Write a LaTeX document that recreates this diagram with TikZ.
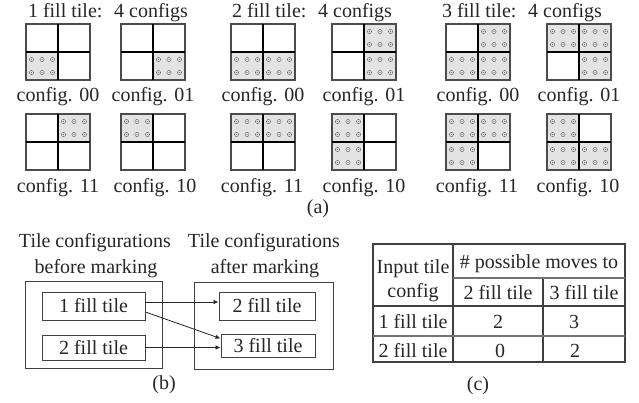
\documentclass[tikz,border=0pt]{standalone}
\usepackage{fontspec}
\setmainfont{Liberation Serif}
\usetikzlibrary{arrows.meta}
\tikzset{
  lbl/.style={font=\fontsize{20}{22}\selectfont, text=black!85, inner sep=0pt, anchor=base},
  qfill/.style={fill=gray!22},
  qdot/.style={draw=black!55, line width=0.5pt},
  qdotc/.style={fill=black!55},
  tileouter/.style={draw=black!70, line width=1.1pt},
  tilediv/.style={draw=black, line width=1.6pt},
  boxline/.style={draw=black!75, line width=0.9pt},
  inbox/.style={draw=black!75, line width=0.9pt, font=\fontsize{20}{22}\selectfont, text=black!85, inner sep=0pt, minimum height=#1},
  arr/.style={draw=black!85, line width=0.8pt, -{Latex[length=5pt,width=4.5pt]}},
  tabline/.style={draw=black!75, line width=1.1pt},
}
% one filled quadrant: #1 = x, #2 = y of its top-left corner
\newcommand\quadfill[2]{%
  \fill[qfill] (#1,#2) rectangle ++(32,28);
  \foreach \ddx in {5.5,16,26.5} {
    \foreach \ddy in {7.5,20.5} {
      \draw[qdot] (#1+\ddx,#2+\ddy) circle[radius=2.1];
      \fill[qdotc] (#1+\ddx,#2+\ddy) circle[radius=0.7];
    }
  }
}
% tile frame: #1 = x, #2 = y of top-left corner
\newcommand\tileframe[2]{%
  \draw[tileouter] (#1,#2) rectangle ++(64,56);
  \draw[tilediv] (#1+32,#2) -- ++(0,56) (#1,#2+28) -- ++(64,0);
}
\begin{document}
\begin{tikzpicture}[x=1pt,y=-1pt]
\useasboundingbox[fill=white] (0,0) rectangle (639,402);
% ---------- (a) ----------
\node[lbl] (t1) at (108,17) {1 fill tile:~ 4 configs};
\node[lbl] (t2) at (312,17) {2 fill tile:~ 4 configs};
\node[lbl] (t3) at (522,17) {3 fill tile:~ 4 configs};
% 1 fill tile
\quadfill{26}{52}\tileframe{26}{24}
\quadfill{153}{52}\tileframe{121}{24}
\quadfill{58}{114}\tileframe{26}{114}
\quadfill{121}{114}\tileframe{121}{114}
% 2 fill tile
\quadfill{231}{52}\quadfill{263}{52}\tileframe{231}{24}
\quadfill{364}{24}\quadfill{364}{52}\tileframe{332}{24}
\quadfill{231}{114}\quadfill{263}{114}\tileframe{231}{114}
\quadfill{332}{114}\quadfill{332}{142}\tileframe{332}{114}
% 3 fill tile
\quadfill{478}{24}\quadfill{446}{52}\quadfill{478}{52}\tileframe{446}{24}
\quadfill{547}{24}\quadfill{579}{24}\quadfill{579}{52}\tileframe{547}{24}
\quadfill{446}{114}\quadfill{478}{114}\quadfill{446}{142}\tileframe{446}{114}
\quadfill{547}{114}\quadfill{547}{142}\quadfill{579}{142}\tileframe{547}{114}
% labels
\node[lbl] (l1) at (58,101) {config. 00};
\node[lbl] (l2) at (153,101) {config. 01};
\node[lbl] (l3) at (263,101) {config. 00};
\node[lbl] (l4) at (364,101) {config. 01};
\node[lbl] (l5) at (478,101) {config. 00};
\node[lbl] (l6) at (579,101) {config. 01};
\node[lbl] (l7) at (58,192) {config. 11};
\node[lbl] (l8) at (155,192) {config. 10};
\node[lbl] (l9) at (262,192) {config. 11};
\node[lbl] (l10) at (364,192) {config. 10};
\node[lbl] (l11) at (477,192) {config. 11};
\node[lbl] (l12) at (578,192) {config. 10};
\node[lbl] (capa) at (318,213) {(a)};
% ---------- (b) ----------
\node[lbl] (hb1) at (95,247) {Tile configurations};
\node[lbl] (hb2) at (96,273) {before marking};
\node[lbl] (ha1) at (264,247) {Tile configurations};
\node[lbl] (ha2) at (265,273) {after marking};
\draw[boxline] (25,281) rectangle (162,368);
\draw[boxline] (194,282) rectangle (333,369);
\node[inbox=28pt, minimum width=103pt] (b1) at (93.5,306) {1 fill tile};
\node[inbox=25pt, minimum width=103pt] (b2) at (93.5,347.5) {2 fill tile};
\node[inbox=28pt, minimum width=96pt] (a2) at (267,306) {2 fill tile};
\node[inbox=23pt, minimum width=94pt] (a3) at (268,345.5) {3 fill tile};
\draw[arr] ([yshift=4pt]b1.east) -- ([yshift=4pt]a2.west);
\draw[arr] ([yshift=-6pt]b1.east) -- ([yshift=7pt]a3.west);
\draw[arr] (b2.east) -- (a3.west |- b2.east);
\node[lbl] (capb) at (164,389) {(b)};
% ---------- (c) ----------
\draw[tabline] (373,244) rectangle (625,362);
\draw[tabline] (453,244) -- (453,362);
\draw[tabline] (543,278) -- (543,362);
\draw[tabline, draw=black!55] (453,278) -- (625,278);
\draw[tabline] (373,306) -- (625,306);
\draw[tabline, draw=black!55] (373,336) -- (625,336);
\node[lbl] (c1) at (413,273) {Input tile};
\node[lbl] (c2) at (413,297) {config};
\node[lbl] (c3) at (539,268) {\# possible moves to};
\node[lbl] (c4) at (498,299) {2 fill tile};
\node[lbl] (c5) at (584,299) {3 fill tile};
\node[lbl] (c6) at (413,328) {1 fill tile};
\node[lbl] (c7) at (498,328) {2};
\node[lbl] (c8) at (574,328) {3};
\node[lbl] (c9) at (413,357) {2 fill tile};
\node[lbl] (c10) at (500,357) {0};
\node[lbl] (c11) at (575,357) {2};
\node[lbl] (capc) at (478,390) {(c)};
\end{tikzpicture}
\end{document}
